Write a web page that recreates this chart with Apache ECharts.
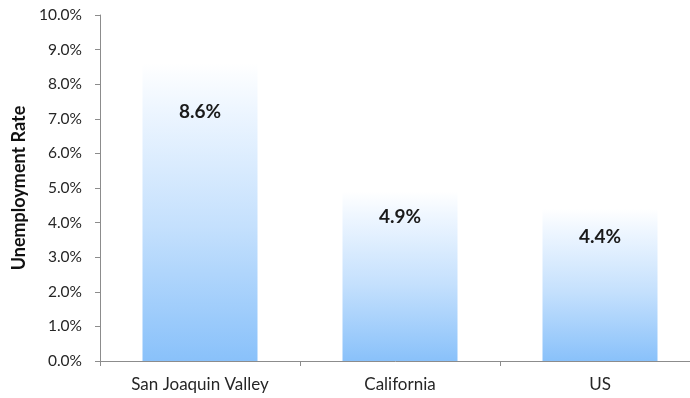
<!DOCTYPE html>
<html>
<head>
<meta charset="utf-8">
<script src="https://cdn.jsdelivr.net/npm/echarts@6/dist/echarts.min.js"></script>
<style>
html,body{margin:0;padding:0;background:#fff;}
#chart{width:690px;height:398px;}
</style>
</head>
<body>
<div id="chart"></div>
<script>
var categories = ['San Joaquin Valley', 'California', 'US'];
var unemploymentRate = [8.6, 4.9, 4.4];
var yAxisName = 'Unemployment Rate';

var labelDistance = [39, 16, 19];

var chart = echarts.init(document.getElementById('chart'), null, {renderer: 'canvas'});
var FONT = 'Lato, "Open Sans", sans-serif';

var barData = unemploymentRate.map(function (v, i) {
  return {
    value: v,
    label: {distance: labelDistance[i]}
  };
});

chart.setOption({
  animation: false,
  grid: {left: 100, top: 15, width: 600, height: 346, containLabel: false, outerBoundsMode: 'none'},
  xAxis: {
    type: 'category',
    data: categories,
    axisLine: {lineStyle: {color: '#8c8c8c', width: 1}},
    axisTick: {show: true, length: 5, alignWithLabel: false, lineStyle: {color: '#8c8c8c'}},
    axisLabel: {color: '#262626', fontSize: 17, fontFamily: FONT, margin: 15}
  },
  yAxis: {
    type: 'value',
    min: 0,
    max: 10,
    interval: 1,
    name: yAxisName,
    nameLocation: 'middle',
    nameGap: 72,
    nameTextStyle: {color: '#111', fontSize: 18, fontWeight: 'bold', fontFamily: FONT},
    axisLine: {show: true, lineStyle: {color: '#8c8c8c', width: 1}},
    axisTick: {show: true, length: 5, lineStyle: {color: '#8c8c8c'}},
    splitLine: {show: false},
    axisLabel: {
      color: '#262626', fontSize: 15.5, fontFamily: FONT, margin: 18,
      formatter: function (v) { return v.toFixed(1) + '%'; }
    }
  },
  series: [{
    type: 'bar',
    data: barData,
    barWidth: 115,
    itemStyle: {
      color: new echarts.graphic.LinearGradient(0, 0, 0, 1, [
        {offset: 0, color: '#ffffff'},
        {offset: 0.15, color: '#eef6ff'},
        {offset: 0.55, color: '#c4e0fd'},
        {offset: 1, color: '#89c1fa'}
      ])
    },
    label: {
      show: true,
      position: 'insideTop',
      color: '#1a1a1a',
      fontSize: 19,
      fontWeight: 'bold',
      fontFamily: FONT,
      formatter: function (p) { return p.value.toFixed(1) + '%'; }
    }
  }]
});
</script>
</body>
</html>
